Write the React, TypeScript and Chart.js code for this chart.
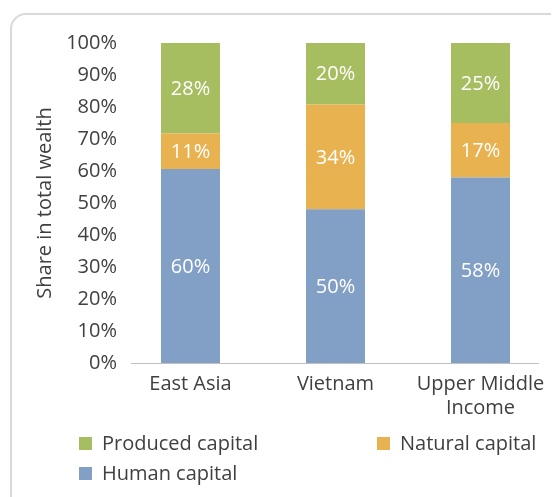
import { useEffect, useRef } from 'react';
import { Chart, registerables } from 'chart.js';

Chart.register(...registerables);

const categories: (string | string[])[] = ['East Asia', 'Vietnam', ['Upper Middle', 'Income']];
const humanCapital = [60, 50, 58];
const naturalCapital = [11, 34, 17];
const producedCapital = [28, 20, 25];
const yTickValues = [0, 10, 20, 30, 40, 50, 60, 70, 80, 90, 100];

const COLORS = {
  human: '#829fc5',
  natural: '#e8b250',
  produced: '#a6bd60',
  text: '#404040',
  axis: '#c0c0c0',
  frame: '#d9d9d9',
};
const FONT = "'Open Sans', 'Noto Sans', sans-serif";

const totals = categories.map((_, i) => humanCapital[i] + naturalCapital[i] + producedCapital[i]);
const norm = (arr: number[]) => arr.map((v, i) => (v / totals[i]) * 100);

const labelPlugin = {
  id: 'segLabels',
  afterDatasetsDraw(chart: any) {
    const ctx = chart.ctx;
    ctx.save();
    ctx.fillStyle = '#ffffff';
    ctx.font = `20px ${FONT}`;
    ctx.textAlign = 'center';
    ctx.textBaseline = 'middle';
    chart.data.datasets.forEach((ds: any, di: number) => {
      const meta = chart.getDatasetMeta(di);
      meta.data.forEach((el: any, i: number) => {
        const p = el.getProps(['x', 'y', 'base'], true);
        ctx.fillText(`${ds.raw[i]}%`, p.x, (p.y + p.base) / 2 + 1);
      });
    });
    ctx.restore();
  },
};

const axisLinePlugin = {
  id: 'axisLine',
  beforeDatasetsDraw(chart: any) {
    const { ctx, chartArea } = chart;
    ctx.save();
    ctx.strokeStyle = COLORS.axis;
    ctx.lineWidth = 1;
    ctx.beginPath();
    ctx.moveTo(chartArea.left + 13, chartArea.bottom + 0.5);
    ctx.lineTo(chartArea.right - 14, chartArea.bottom + 0.5);
    ctx.stroke();
    ctx.restore();
  },
};

const legendItems = [
  { label: 'Produced capital', color: COLORS.produced, left: 71, top: 429 },
  { label: 'Natural capital', color: COLORS.natural, left: 369, top: 429 },
  { label: 'Human capital', color: COLORS.human, left: 71, top: 459 },
];

export default function App() {
  const ref = useRef<HTMLCanvasElement | null>(null);

  useEffect(() => {
    document.documentElement.style.overflow = 'hidden';
    document.body.style.overflow = 'hidden';
    if (!ref.current) return;
    const chart = new Chart(ref.current, {
      type: 'bar',
      data: {
        labels: categories as any,
        datasets: [
          { label: 'Human capital', data: norm(humanCapital), raw: humanCapital, backgroundColor: COLORS.human } as any,
          { label: 'Natural capital', data: norm(naturalCapital), raw: naturalCapital, backgroundColor: COLORS.natural } as any,
          { label: 'Produced capital', data: norm(producedCapital), raw: producedCapital, backgroundColor: COLORS.produced } as any,
        ],
      },
      options: {
        responsive: true,
        maintainAspectRatio: false,
        animation: false,
        events: [],
        layout: { padding: { left: 0, right: 6, top: 35, bottom: 74 } },
        datasets: { bar: { categoryPercentage: 1, barPercentage: 0.407 } },
        plugins: {
          legend: { display: false },
          tooltip: { enabled: false },
        },
        scales: {
          x: {
            stacked: true,
            grid: { display: false, drawTicks: false },
            border: { display: false },
            ticks: {
              color: COLORS.text,
              font: { family: FONT, size: 20, lineHeight: 1.2 },
              padding: 9,
              maxRotation: 0,
              autoSkip: false,
            },
            afterFit: (s: any) => {
              s.height = 60;
            },
          },
          y: {
            stacked: true,
            min: 0,
            max: 100,
            grid: { display: false, drawTicks: false },
            border: { display: false },
            afterBuildTicks: (s: any) => {
              s.ticks = yTickValues.map((v) => ({ value: v }));
            },
            ticks: {
              color: COLORS.text,
              font: { family: FONT, size: 20 },
              padding: 1,
              callback: (v: any) => `${v}%`,
            },
            title: {
              display: true,
              text: 'Share in total wealth',
              color: COLORS.text,
              font: { family: FONT, size: 20, lineHeight: 1.2 },
              padding: { top: 25, bottom: 0 },
            },
            afterFit: (s: any) => {
              s.width = 110;
            },
          },
        },
      },
      plugins: [labelPlugin, axisLinePlugin],
    });
    return () => chart.destroy();
  }, []);

  return (
    <div style={{ position: 'relative', width: 551, height: 489, overflow: 'hidden', fontFamily: FONT }}>
      <div
        style={{
          position: 'absolute',
          left: 2,
          top: 5,
          width: 700,
          height: 700,
          border: `2px solid ${COLORS.frame}`,
          borderRadius: 16,
          boxSizing: 'border-box',
        }}
      />
      <div style={{ position: 'absolute', left: 0, top: 0, width: 551, height: 489 }}>
        <canvas ref={ref} />
      </div>
      {legendItems.map((it) => (
        <div
          key={it.label}
          style={{
            position: 'absolute',
            left: it.left,
            top: it.top - 7,
            height: 25,
            display: 'flex',
            alignItems: 'center',
            fontSize: 20,
            lineHeight: '25px',
            color: COLORS.text,
            whiteSpace: 'nowrap',
          }}
        >
          <span style={{ display: 'inline-block', width: 13, height: 13, background: it.color, marginRight: 10, marginTop: 1 }} />
          <span>{it.label}</span>
        </div>
      ))}
    </div>
  );
}
